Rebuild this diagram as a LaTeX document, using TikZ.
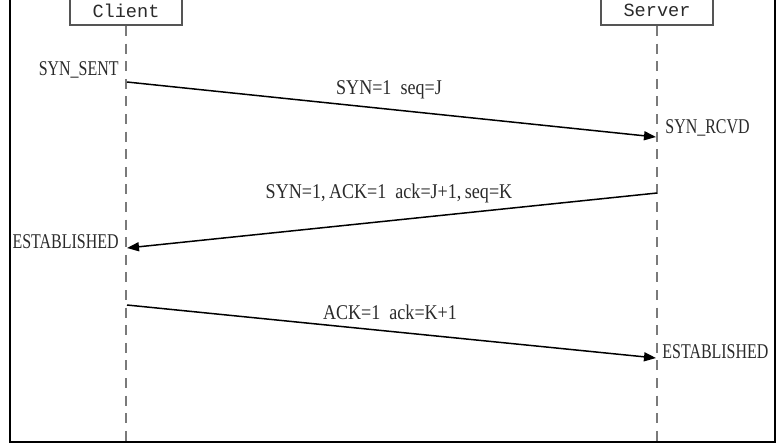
\documentclass[tikz,border=0pt]{standalone}
\usepackage{fontspec}
\setmainfont{Liberation Serif}
\newfontfamily\lblfont[FakeStretch=0.76]{Liberation Serif}
\newfontfamily\msgfont[FakeStretch=0.86]{Liberation Serif}
\newfontfamily\partyfont{Liberation Mono}
\usetikzlibrary{positioning,arrows.meta}
\definecolor{lifegray}{HTML}{7A7A7A}
\definecolor{boxgray}{HTML}{555555}
\definecolor{inkgray}{HTML}{2A2A2A}

\begin{document}
\begin{tikzpicture}[
    x=0.5pt, y=-0.5pt,
    party/.style={draw=boxgray, line width=1pt, minimum width=56pt, minimum height=14.5pt,
                  inner sep=0pt, anchor=south, text=inkgray,
                  font=\partyfont\fontsize{9.3}{10}\selectfont},
    life/.style={lifegray, line width=1.2pt, dash pattern=on 5pt off 3.8pt},
    state/.style={text=inkgray, inner sep=0pt, font=\lblfont\fontsize{10.5}{12}\selectfont},
    msglbl/.style={text=inkgray, inner sep=0pt, font=\msgfont\fontsize{10.5}{12}\selectfont},
    msg/.style={-{Triangle[length=6pt, width=4.5pt]}, line width=0.75pt, black},
]
  \useasboundingbox (0,0) rectangle (781,447);
  \clip (0,0) rectangle (781,447);
  %% frame
  \draw[line width=0.8pt] (10,-20) rectangle (775,442);
  %% parties and lifelines
  \node[party] (client) at (126,26) {Client};
  \node[party] (server) at (657,26) {Server};
  \coordinate (clientend) at (126,460);
  \coordinate (serverend) at (657,460);
  \draw[life] (client.south) -- (clientend);
  \draw[life] (server.south) -- (serverend);
  %% message end points
  \coordinate (c1) at (127,82);  \coordinate (s1) at (656,137);
  \coordinate (s2) at (657,193); \coordinate (c2) at (127,248);
  \coordinate (c3) at (127,305); \coordinate (s3) at (656,358);
  %% states
  \node[state, anchor=east] (synsent) at (119,70) {SYN\_SENT};
  \node[state, anchor=west] (synrcvd) at (665,128) {SYN\_RCVD};
  \node[state, anchor=east] (estc) at (119,242) {ESTABLISHED};
  \node[state, anchor=west] (ests) at (662,352) {ESTABLISHED};
  %% messages
  \draw[msg] (c1) -- (s1);
  \draw[msg] (s2) -- (c2);
  \draw[msg] (c3) -- (s3);
  \node[msglbl] (syn) at (389,90) {SYN=1\ \ seq=J};
  \node[msglbl] (synack) at (389,193) {SYN=1,\,ACK=1\ \ ack=J+1,\,seq=K};
  \node[msglbl] (ack) at (390,312) {ACK=1\ \ ack=K+1};
\end{tikzpicture}
\end{document}
